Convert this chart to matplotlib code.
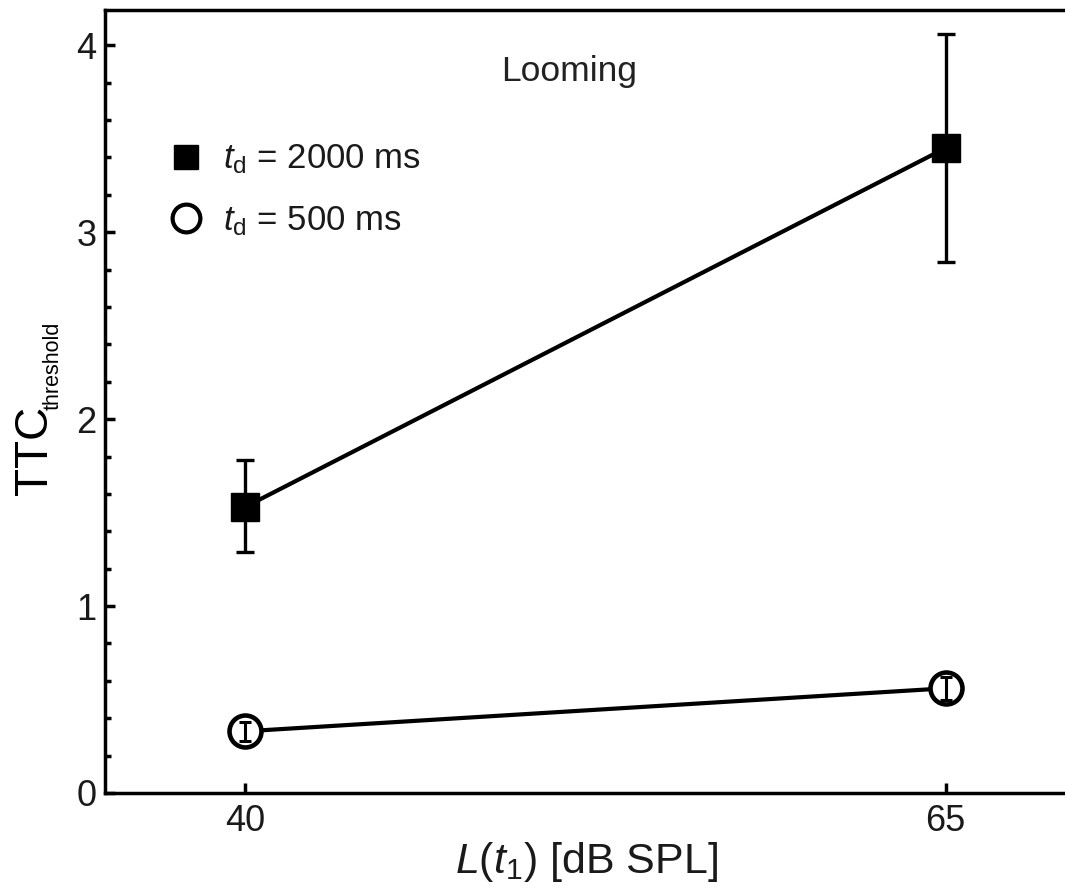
import matplotlib
matplotlib.use("Agg")
import matplotlib.pyplot as plt
from matplotlib.lines import Line2D
from matplotlib.ticker import MultipleLocator

plt.rcParams['font.family'] = ['Liberation Sans', 'DejaVu Sans']
plt.rcParams['mathtext.fontset'] = 'custom'
plt.rcParams['mathtext.rm'] = 'Liberation Sans'
plt.rcParams['mathtext.it'] = 'Liberation Sans:italic'

# data
levels = [40, 65]
ttc_2000 = [1.53, 3.45]
err_2000_lo = [0.24, 0.61]
err_2000_hi = [0.25, 0.61]
ttc_500 = [0.33, 0.56]
err_500 = [0.05, 0.06]
labels = [r'$t_{\mathrm{d}}$ = 2000 ms', r'$t_{\mathrm{d}}$ = 500 ms']

fig = plt.figure(figsize=(10.65, 8.89), dpi=100)
ax = fig.add_axes([0.0986, 0.108, 0.905, 0.881])

# lines
ax.plot(levels, ttc_2000, color='black', lw=3, zorder=2)
ax.plot(levels, ttc_500, color='black', lw=3, zorder=2)

# markers
ax.plot(levels, ttc_2000, ls='none', marker='s', ms=20, mfc='black', mec='black', zorder=3)
ax.plot(levels, ttc_500, ls='none', marker='o', ms=23, mfc='white', mec='black', mew=3.3, zorder=3)

# error bars
ax.errorbar(levels, ttc_2000, yerr=[err_2000_lo, err_2000_hi], fmt='none', ecolor='black',
            elinewidth=2.4, capsize=6.5, capthick=2.4, zorder=4)
ax.errorbar(levels, ttc_500, yerr=err_500, fmt='none', ecolor='black',
            elinewidth=2.2, capsize=4.5, capthick=2.2, zorder=4)

ax.set_xlim(35.0, 69.4)
ax.set_ylim(0, 4.19)
ax.set_xticks(levels)
ax.yaxis.set_major_locator(MultipleLocator(1))
ax.yaxis.set_minor_locator(MultipleLocator(0.2))

for s in ['left', 'bottom', 'top']:
    ax.spines[s].set_linewidth(2.5)
ax.spines['right'].set_visible(False)

ax.tick_params(axis='both', which='major', direction='in', length=7, width=2.5,
               labelsize=26, colors='black', labelcolor='#1a1a1a')
ax.tick_params(axis='y', which='major', pad=6)
ax.tick_params(axis='x', which='major', pad=8, top=False)
ax.tick_params(axis='y', which='minor', direction='in', length=4, width=2.5)
ax.tick_params(axis='y', which='both', right=False)

ax.set_xlabel(r'$L$($t_{1}$) [dB SPL]', fontsize=31, labelpad=1, color='#1a1a1a')

# y label: big TTC with small subscript
fig.text(0.033, 1 - 495 / 889, 'TTC', rotation=90, ha='center', va='bottom',
         fontsize=33, color='black')
fig.text(0.050, 1 - 410 / 889, 'threshold', rotation=90, ha='center', va='bottom',
         fontsize=15.5, color='black')

ax.text(0.482, 0.921, 'Looming', transform=ax.transAxes, ha='center', va='center',
        fontsize=25.5, color='#222222')

handles = [
    Line2D([], [], ls='none', marker='s', ms=17.5, mfc='black', mec='black'),
    Line2D([], [], ls='none', marker='o', ms=20, mfc='white', mec='black', mew=3),
]
ax.legend(handles, labels, loc='upper left', bbox_to_anchor=(0.05, 0.848), frameon=False,
          fontsize=25, handletextpad=0.5, labelspacing=0.8, handlelength=1.1,
          borderaxespad=0, labelcolor='#1a1a1a')

fig.savefig('out.png', dpi=100)
